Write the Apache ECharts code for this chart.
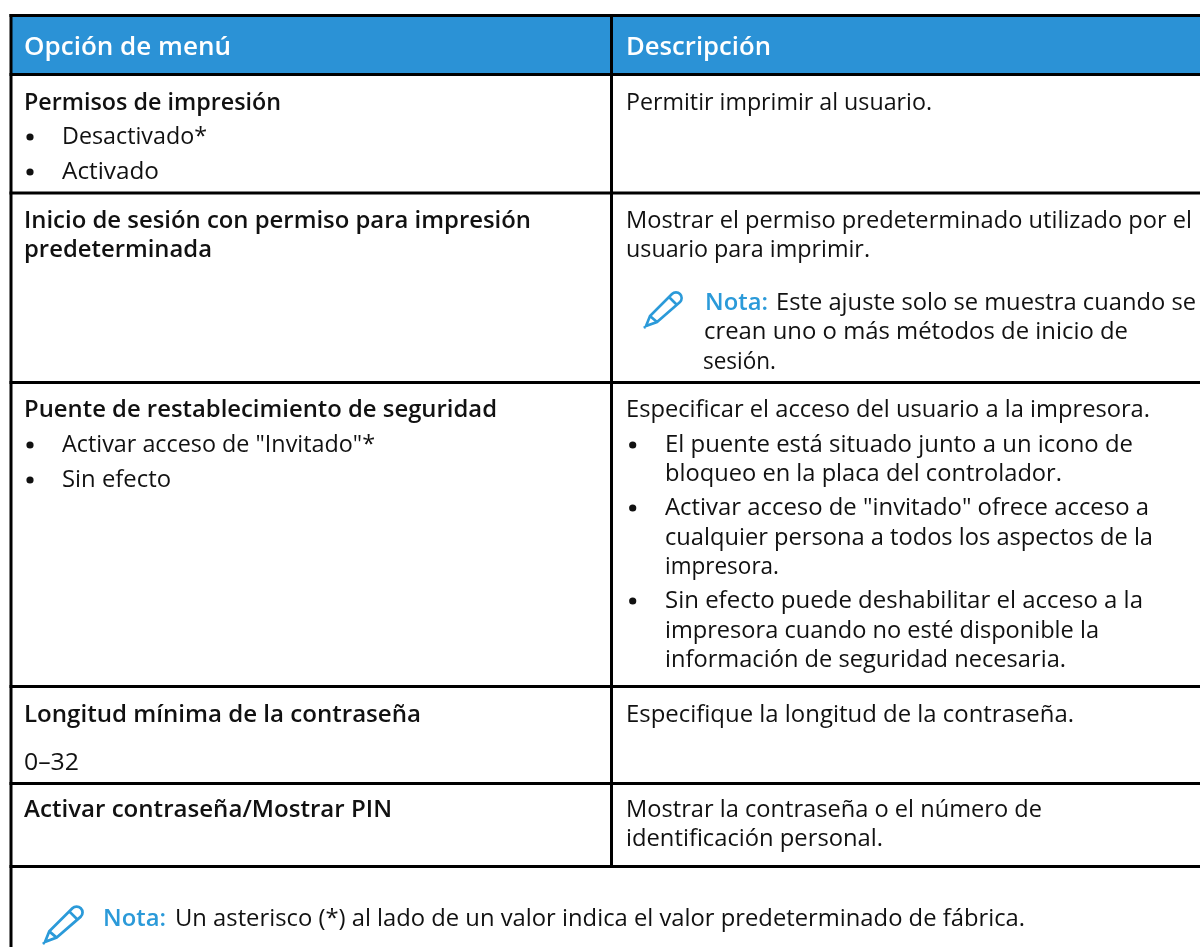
<!DOCTYPE html>
<html><head><meta charset="utf-8">
<style>html,body{margin:0;padding:0;background:#fff}#c{width:1200px;height:947px}</style>
<script src="https://cdn.jsdelivr.net/npm/echarts@6/dist/echarts.min.js"></script></head>
<body><div id="c"></div>
<script>
// ---- table content ----
const headerLabels = ['Opción de menú', 'Descripción'];
const row1Left = ['Permisos de impresión', 'Desactivado*', 'Activado'];
const row1Right = ['Permitir imprimir al usuario.'];
const row2Left = ['Inicio de sesión con permiso para impresión', 'predeterminada'];
const row2Right = ['Mostrar el permiso predeterminado utilizado por el', 'usuario para imprimir.'];
const row2NoteLabel = 'Nota:';
const row2Note = ['Este ajuste solo se muestra cuando se', 'crean uno o más métodos de inicio de', 'sesión.'];
const row3Left = ['Puente de restablecimiento de seguridad', 'Activar acceso de "Invitado"*', 'Sin efecto'];
const row3Right = ['Especificar el acceso del usuario a la impresora.',
  'El puente está situado junto a un icono de', 'bloqueo en la placa del controlador.',
  'Activar acceso de "invitado" ofrece acceso a', 'cualquier persona a todos los aspectos de la', 'impresora.',
  'Sin efecto puede deshabilitar el acceso a la', 'impresora cuando no esté disponible la', 'información de seguridad necesaria.'];
const row4Left = ['Longitud mínima de la contraseña', '0–32'];
const row4Right = ['Especifique la longitud de la contraseña.'];
const row5Left = ['Activar contraseña/Mostrar PIN'];
const row5Right = ['Mostrar la contraseña o el número de', 'identificación personal.'];
const footNoteLabel = 'Nota:';
const footNote = 'Un asterisco (*) al lado de un valor indica el valor predeterminado de fábrica.';

// ---- layout and style (separate from content): [left, right, baseline] per text line ----
const BLUE = '#2b92d6', NOTE = '#2b9ad9', INK = '#111111', FONT = '"Open Sans"', SIZE = 23.4;
const hRules = [15.5, 74.5, 193, 382.5, 686.5, 783.5, 866.5];
const LEFT_X = 11, MID_X = 611.5, LW = 3;
const PENCIL = 'M2 37 L6 27 L28 5 A5 5 0 0 1 36 13 L13 33 Z M6 27 L13 33 M25 8 L33 16 M0 39 L1 38';
echarts.graphic.registerShape('pencil', echarts.graphic.extendPath(PENCIL, {}));

const mctx = document.createElement('canvas').getContext('2d');
const g = [];
function rect(x, y, w, h, fill) { g.push({type:'rect', silent:true, shape:{x,y,width:w,height:h}, style:{fill}}); }
function txt(s, box, o) {
  o = o || {};
  const size = o.size || SIZE, font = (o.bold ? '600 ' : '') + size + 'px ' + FONT;
  mctx.font = font;
  const sx = (box[1] - box[0]) / mctx.measureText(s).width;
  g.push({type:'text', silent:true, x:box[0], y:box[2] - 0.275 * size, scaleX:sx,
    style:{text:s, fill:o.fill || INK, font, verticalAlign:'middle'}});
}
function dot(cx, base) { g.push({type:'circle', silent:true, shape:{cx, cy:base - 7, r:3.6}, style:{fill:INK}}); }
function pencil(x, y, s) { g.push({type:'pencil', silent:true, x, y, scaleX:s, scaleY:s, shape:{x:0,y:0,width:38,height:39}, style:{fill:null, stroke:NOTE, lineWidth:2.6}}); }
function column(lines, boxes, opts) { lines.forEach((s, i) => txt(s, boxes[i], opts ? opts(i) : undefined)); }

const row1LeftBox = [[24,281,110],[62,207,144],[62,159,179]];
const row1RightBox = [[626,932,110]];
const row2LeftBox = [[24,531,228],[24,212,257]];
const row2RightBox = [[626,1192,228],[626,870,257]];
const noteLabelBox = [705,768,310];
const row2NoteBox = [[776,1196,310],[704,1128,339],[703,776,369]];
const row3LeftBox = [[24,497,417],[62,375,452],[62,171,487]];
const row3RightBox = [[626,1150,417],[665,1133,452],[665,1062,481],[665,1149,515],[665,1153,545],[665,779,574],[665,1143,608],[665,1099,638],[665,1066,667]];
const row4LeftBox = [[24,421,722],[24,79,770]];
const row4RightBox = [[626,1074,722]];
const row5LeftBox = [[24,392,817]];
const row5RightBox = [[626,1042,817],[626,883,846]];
const footLabelBox = [103,166,926];
const footBox = [175,1025,926];

rect(10, 15, 1190, 60, BLUE);
txt(headerLabels[0], [24,231,55], {fill:'#fff', bold:true, size:26});
txt(headerLabels[1], [626,771,55], {fill:'#fff', bold:true, size:26});

hRules.forEach(y => rect(LEFT_X-1.5, y-1.5, 1200, LW, '#000'));
rect(LEFT_X-1.5, 14, LW, 933, '#000');
rect(MID_X-1.5, 14, LW, 853, '#000');

const boldFirst = i => i === 0 ? {bold:true} : {};
column(row1Left, row1LeftBox, boldFirst);
column(row2Left, row2LeftBox, () => ({bold:true}));
column(row3Left, row3LeftBox, boldFirst);
column(row4Left, row4LeftBox, boldFirst);
column(row5Left, row5LeftBox, boldFirst);
[144,179,452,487].forEach(b => dot(30, b));

column(row1Right, row1RightBox);
column(row2Right, row2RightBox);
txt(row2NoteLabel, noteLabelBox, {fill:NOTE, bold:true});
column(row2Note, row2NoteBox);
pencil(644, 289, 1);
column(row3Right, row3RightBox);
[452,515,608].forEach(b => dot(632.7, b));
column(row4Right, row4RightBox);
column(row5Right, row5RightBox);
txt(footNoteLabel, footLabelBox, {fill:NOTE, bold:true});
txt(footNote, footBox);
pencil(43, 903, 1.05);

const chart = echarts.init(document.getElementById('c'), null, {renderer:'canvas'});
chart.setOption({animation:false, backgroundColor:'#fff', graphic:{elements:g}});
</script></body></html>
